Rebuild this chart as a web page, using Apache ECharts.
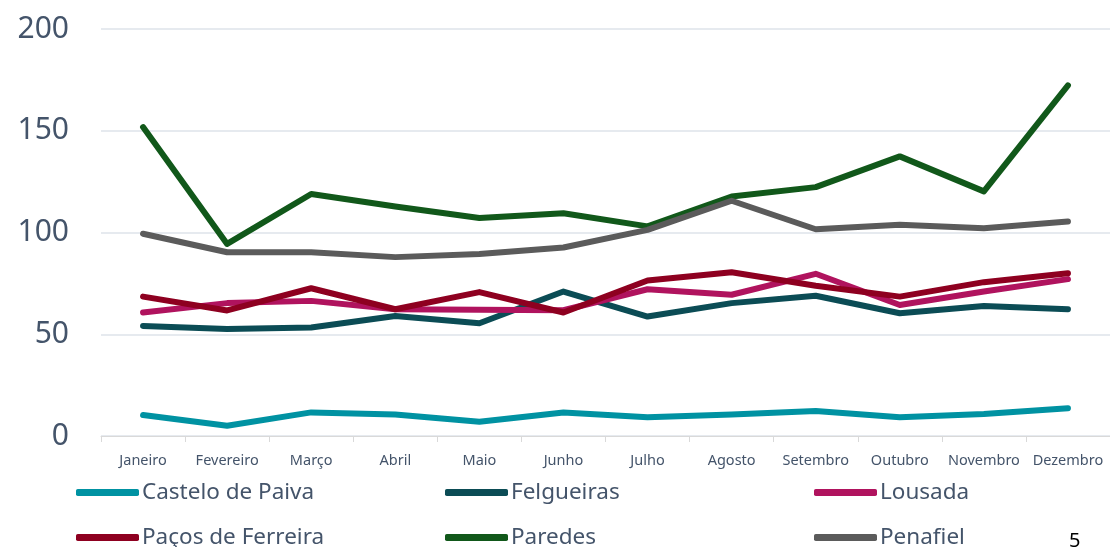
<!DOCTYPE html>
<html>
<head>
    <meta charset="utf-8">
    <title></title>
    <style type="text/css">
        html, body { margin: 0; padding: 0; background: #fff; }
        #main { width: 1110px; height: 547px; }
    </style>
</head>
<body>
    <div id="main"></div>
</body>
<script src="https://cdn.jsdelivr.net/npm/echarts@6/dist/echarts.min.js"></script>
<script type="text/javascript">
    var months = ['Janeiro', 'Fevereiro', 'Março', 'Abril', 'Maio', 'Junho', 'Julho', 'Agosto', 'Setembro', 'Outubro', 'Novembro', 'Dezembro'];
    var yTicks = [0, 50, 100, 150, 200];

    var castelo = [10.3, 5.0, 11.6, 10.6, 7.0, 11.6, 9.2, 10.6, 12.3, 9.2, 10.8, 13.6];
    var felgueiras = [54.1, 52.6, 53.3, 59.0, 55.4, 71.0, 58.7, 65.3, 68.9, 60.3, 63.9, 62.3];
    var lousada = [60.7, 65.3, 66.4, 62.3, 62.0, 61.8, 72.1, 69.4, 79.7, 64.4, 71.0, 77.1];
    var pacos = [68.5, 61.7, 72.6, 62.3, 70.7, 60.7, 76.4, 80.5, 73.8, 68.5, 75.6, 80.0];
    var paredes = [151.8, 94.4, 118.9, 112.8, 107.1, 109.5, 103.0, 117.7, 122.3, 137.4, 120.2, 172.3];
    var penafiel = [99.4, 90.3, 90.3, 87.9, 89.4, 92.6, 101.3, 115.6, 101.6, 103.8, 102.1, 105.4];

    var names = ['Castelo de Paiva', 'Felgueiras', 'Lousada', 'Paços de Ferreira', 'Paredes', 'Penafiel'];
    var values = [castelo, felgueiras, lousada, pacos, paredes, penafiel];
    var colors = ['#0092A2', '#0B4C55', '#B0135E', '#8E0020', '#11581A', '#5B5B5B'];

    var textColor = '#44546A';
    var font = '"Noto Sans", "Open Sans", sans-serif';

    // legend: 3 columns x 2 rows, one component per entry
    var legendPos = [[76, 481], [445, 481], [814, 481], [76, 526], [445, 526], [814, 526]];
    var legends = [];
    for (var i = 0; i < names.length; i++) {
        legends.push({
            data: [names[i]],
            left: legendPos[i][0],
            top: legendPos[i][1],
            padding: 0,
            icon: 'roundRect',
            itemWidth: 63,
            itemHeight: 7,
            textStyle: {
                color: textColor,
                fontSize: 22.5,
                fontFamily: font,
                padding: [0, 0, 0, -2]
            }
        });
    }

    var series = [];
    for (var i = 0; i < names.length; i++) {
        series.push({
            name: names[i],
            type: 'line',
            data: values[i],
            symbol: 'none',
            smooth: false,
            lineStyle: { width: 6, color: colors[i], cap: 'round', join: 'round' },
            itemStyle: { color: colors[i] }
        });
    }

    var option = {
        backgroundColor: '#FFFFFF',
        animation: false,
        legend: legends,
        grid: { left: 101, top: 29, width: 1012, bottom: 111, containLabel: false },
        xAxis: {
            type: 'category',
            data: months,
            boundaryGap: true,
            axisLine: { lineStyle: { color: '#D9D9D9', width: 1 } },
            axisTick: { show: true, length: 6, lineStyle: { color: '#D9D9D9' } },
            axisLabel: { color: textColor, fontSize: 14.5, fontFamily: font, margin: 17, interval: 0 }
        },
        yAxis: {
            type: 'value',
            min: yTicks[0],
            max: yTicks[yTicks.length - 1],
            interval: 50,
            axisLine: { show: false },
            axisTick: { show: false },
            splitLine: { lineStyle: { color: '#DEE3EA', width: 1.5 } },
            axisLabel: { color: textColor, fontSize: 30, fontFamily: font, margin: 32 }
        },
        graphic: [{
            type: 'text',
            left: 1069,
            top: 531,
            style: { text: '5', fontSize: 20, fill: '#000', fontFamily: font }
        }],
        series: series
    };

    var myChart = echarts.init(document.getElementById('main'));
    myChart.setOption(option);
</script>
</html>
